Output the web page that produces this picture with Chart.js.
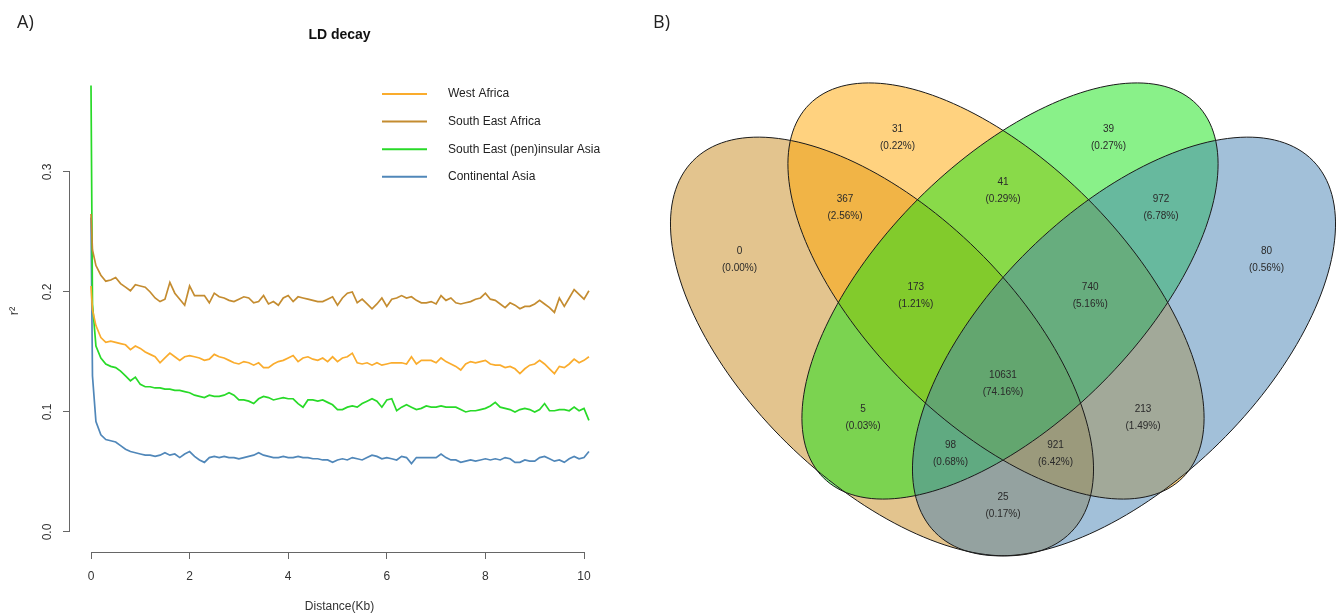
<!DOCTYPE html>
<html>
<head>
<meta charset="utf-8">
<script src="https://cdn.jsdelivr.net/npm/chart.js@4.4.1/dist/chart.umd.min.js"></script>
<style>
  html, body { margin: 0; padding: 0; background: #fff; }
  #page { position: relative; width: 1336px; height: 616px; overflow: hidden; }
  #ld { position: absolute; left: 0; top: 0; }
  #venn { position: absolute; left: 660px; top: 0; }
  .panel { position: absolute; font-family: 'Open Sans', sans-serif; font-size: 18px; line-height: 1; color: #222; }
</style>
</head>
<body>
<div id="page">
  <canvas id="ld" width="660" height="616"></canvas>
  <canvas id="venn" width="676" height="616"></canvas>
  <div class="panel" style="left:17px; top:12px;">A)</div>
  <div class="panel" style="left:653px; top:12px;">B)</div>
</div>
<script>
// ---- Panel A: LD decay ----
const distanceKb = [0, 0.03,
  0.1, 0.2, 0.3, 0.4, 0.5, 0.6, 0.7, 0.8, 0.9, 1.0,
  1.1, 1.2, 1.3, 1.4, 1.5, 1.6, 1.7, 1.8, 1.9, 2.0,
  2.1, 2.2, 2.3, 2.4, 2.5, 2.6, 2.7, 2.8, 2.9, 3.0,
  3.1, 3.2, 3.3, 3.4, 3.5, 3.6, 3.7, 3.8, 3.9, 4.0,
  4.1, 4.2, 4.3, 4.4, 4.5, 4.6, 4.7, 4.8, 4.9, 5.0,
  5.1, 5.2, 5.3, 5.4, 5.5, 5.6, 5.7, 5.8, 5.9, 6.0,
  6.1, 6.2, 6.3, 6.4, 6.5, 6.6, 6.7, 6.8, 6.9, 7.0,
  7.1, 7.2, 7.3, 7.4, 7.5, 7.6, 7.7, 7.8, 7.9, 8.0,
  8.1, 8.2, 8.3, 8.4, 8.5, 8.6, 8.7, 8.8, 8.9, 9.0,
  9.1, 9.2, 9.3, 9.4, 9.5, 9.6, 9.7, 9.8, 9.9, 10.0,
  10.1];

const westAfrica = [0.205, 0.185,
  0.172, 0.162, 0.158, 0.159, 0.158, 0.157, 0.156, 0.152, 0.155, 0.153,
  0.150, 0.148, 0.146, 0.141, 0.145, 0.149, 0.146, 0.143, 0.146, 0.147,
  0.146, 0.145, 0.143, 0.144, 0.148, 0.146, 0.145, 0.143, 0.141, 0.140,
  0.142, 0.141, 0.139, 0.141, 0.137, 0.137, 0.140, 0.142, 0.143, 0.145,
  0.147, 0.142, 0.145, 0.146, 0.144, 0.143, 0.145, 0.142, 0.146, 0.142,
  0.145, 0.146, 0.149, 0.141, 0.140, 0.141, 0.139, 0.141, 0.139, 0.140,
  0.141, 0.141, 0.141, 0.140, 0.146, 0.140, 0.143, 0.143, 0.143, 0.141,
  0.145, 0.142, 0.140, 0.138, 0.135, 0.140, 0.142, 0.141, 0.142, 0.143,
  0.140, 0.139, 0.139, 0.137, 0.138, 0.136, 0.132, 0.136, 0.139, 0.140,
  0.143, 0.140, 0.136, 0.132, 0.138, 0.137, 0.140, 0.144, 0.141, 0.143,
  0.146];

const southEastAfrica = [0.265, 0.235,
  0.222, 0.214, 0.209, 0.210, 0.212, 0.207, 0.204, 0.201, 0.206, 0.205,
  0.204, 0.200, 0.195, 0.192, 0.194, 0.208, 0.199, 0.194, 0.189, 0.205,
  0.197, 0.197, 0.197, 0.191, 0.199, 0.196, 0.195, 0.193, 0.192, 0.194,
  0.196, 0.195, 0.191, 0.192, 0.197, 0.190, 0.192, 0.189, 0.195, 0.197,
  0.192, 0.196, 0.195, 0.194, 0.193, 0.192, 0.192, 0.194, 0.196, 0.189,
  0.195, 0.199, 0.200, 0.191, 0.194, 0.190, 0.186, 0.190, 0.195, 0.188,
  0.194, 0.195, 0.197, 0.195, 0.196, 0.193, 0.191, 0.191, 0.192, 0.190,
  0.197, 0.193, 0.195, 0.191, 0.190, 0.191, 0.192, 0.194, 0.195, 0.199,
  0.194, 0.193, 0.190, 0.187, 0.191, 0.189, 0.186, 0.188, 0.188, 0.190,
  0.193, 0.190, 0.187, 0.183, 0.195, 0.188, 0.195, 0.202, 0.198, 0.194,
  0.201];

const seInsularAsia = [0.372, 0.190,
  0.155, 0.145, 0.140, 0.138, 0.137, 0.134, 0.130, 0.126, 0.129, 0.123,
  0.121, 0.121, 0.120, 0.120, 0.119, 0.119, 0.118, 0.118, 0.117, 0.116,
  0.114, 0.113, 0.112, 0.114, 0.113, 0.113, 0.114, 0.116, 0.114, 0.110,
  0.110, 0.109, 0.107, 0.111, 0.113, 0.112, 0.110, 0.111, 0.112, 0.111,
  0.111, 0.107, 0.104, 0.110, 0.110, 0.109, 0.110, 0.108, 0.106, 0.102,
  0.102, 0.104, 0.105, 0.104, 0.107, 0.109, 0.111, 0.109, 0.104, 0.110,
  0.111, 0.101, 0.104, 0.106, 0.104, 0.102, 0.103, 0.105, 0.104, 0.104,
  0.105, 0.104, 0.104, 0.104, 0.102, 0.100, 0.101, 0.101, 0.102, 0.103,
  0.105, 0.108, 0.104, 0.103, 0.102, 0.100, 0.102, 0.103, 0.102, 0.100,
  0.102, 0.107, 0.101, 0.101, 0.102, 0.102, 0.101, 0.104, 0.101, 0.103,
  0.093];

const continentalAsia = [0.262, 0.130,
  0.092, 0.081, 0.077, 0.076, 0.075, 0.072, 0.069, 0.067, 0.066, 0.065,
  0.064, 0.064, 0.063, 0.064, 0.066, 0.064, 0.065, 0.062, 0.065, 0.067,
  0.063, 0.060, 0.058, 0.062, 0.063, 0.062, 0.063, 0.062, 0.062, 0.061,
  0.062, 0.063, 0.064, 0.066, 0.064, 0.063, 0.062, 0.062, 0.063, 0.062,
  0.062, 0.063, 0.062, 0.062, 0.061, 0.061, 0.060, 0.060, 0.058, 0.060,
  0.061, 0.060, 0.062, 0.061, 0.060, 0.062, 0.064, 0.063, 0.061, 0.062,
  0.061, 0.060, 0.063, 0.062, 0.057, 0.062, 0.062, 0.062, 0.062, 0.062,
  0.065, 0.062, 0.060, 0.060, 0.058, 0.059, 0.060, 0.059, 0.060, 0.061,
  0.060, 0.061, 0.060, 0.062, 0.061, 0.058, 0.058, 0.060, 0.059, 0.059,
  0.062, 0.063, 0.061, 0.059, 0.060, 0.058, 0.061, 0.063, 0.061, 0.062,
  0.067];

const seriesNames = ["West Africa", "South East Africa", "South East (pen)insular Asia", "Continental Asia"];
const xTicks = [0, 2, 4, 6, 8, 10];
const yTicks = [0, 0.1, 0.2, 0.3];

// ---- Panel B: Venn counts (regions in reading order) ----
const vennCounts = [0, 31, 39, 80, 367, 41, 972, 173, 740, 10631, 5, 213, 98, 921, 25];

// colours: Venn sets in draw order SE Africa, West Africa, SE insular Asia, Continental Asia
const setColours = ["200,138,30", "255,165,0", "20,228,20", "70,130,180"];
const lineColours = ["rgb(250,172,45)", "rgb(196,140,48)", "rgb(40,218,40)", "rgb(80,135,185)"];

// venn layout (fixed geometry, 1 unit = 100px)
const vennShape = {
  cx: [-1.21, -0.07, 0.07, 1.21],
  cy: [1.985, 2.54, 2.54, 1.985],
  a: [2.65, 2.64, 2.64, 2.65],
  b: [1.355, 1.30, 1.30, 1.355],
  angle: [-44.5, -45, 45, 44.5]
};
const vennLabelX = [-2.635, -1.055, 1.055, 2.635, -1.58, 0, 1.58, -0.872, 0.872, 0, -1.40, 1.40, -0.525, 0.525, 0];
const vennLabelY = [2.85, 4.075, 4.075, 2.85, 3.37, 3.545, 3.37, 2.495, 2.495, 1.615, 1.27, 1.27, 0.915, 0.915, 0.395];

Chart.defaults.font.family = "'Liberation Sans', Arial, Helvetica, sans-serif";
Chart.defaults.color = "#333";

const toPoints = (vals) => vals.map((v, i) => ({ x: distanceKb[i], y: v }));

// R style axis lines: only span first to last tick
const rAxes = {
  id: "rAxes",
  afterDraw(chart) {
    const { ctx, chartArea, scales } = chart;
    ctx.save();
    ctx.strokeStyle = "#666";
    ctx.lineWidth = 1;
    ctx.beginPath();
    const yb = Math.round(chartArea.bottom) + 0.5;
    ctx.moveTo(scales.x.getPixelForValue(xTicks[0]), yb);
    ctx.lineTo(scales.x.getPixelForValue(xTicks[xTicks.length - 1]), yb);
    const xl = Math.round(chartArea.left) - 0.5;
    ctx.moveTo(xl, scales.y.getPixelForValue(yTicks[0]));
    ctx.lineTo(xl, scales.y.getPixelForValue(yTicks[yTicks.length - 1]));
    ctx.stroke();
    ctx.restore();
  }
};

// legend inside the plot, no box (like R legend bty="n")
const ldLegend = {
  id: "ldLegend",
  afterDraw(chart) {
    const ctx = chart.ctx;
    ctx.save();
    ctx.font = "12px 'Liberation Sans', Arial, sans-serif";
    ctx.textBaseline = "middle";
    chart.data.datasets.forEach((ds, i) => {
      const y = 94 + i * 27.6;
      ctx.strokeStyle = ds.borderColor;
      ctx.lineWidth = 2;
      ctx.beginPath();
      ctx.moveTo(382, y);
      ctx.lineTo(427, y);
      ctx.stroke();
      ctx.fillStyle = "#222";
      ctx.fillText(ds.label, 448, y);
    });
    ctx.restore();
  }
};

const ldSeries = [westAfrica, southEastAfrica, seInsularAsia, continentalAsia];

new Chart(document.getElementById("ld"), {
  type: "line",
  data: {
    datasets: ldSeries.map((vals, i) => ({
      label: seriesNames[i],
      data: toPoints(vals),
      borderColor: lineColours[i],
      borderWidth: 1.7,
      pointRadius: 0,
      tension: 0,
      fill: false
    }))
  },
  options: {
    responsive: false,
    animation: false,
    devicePixelRatio: 1,
    layout: { padding: { left: 0, right: 51, top: 0, bottom: 0 } },
    plugins: {
      legend: { display: false },
      tooltip: { enabled: false },
      title: {
        display: true,
        text: "LD decay",
        fullSize: false,
        color: "#111",
        font: { size: 14, weight: "bold" },
        padding: { top: 27, bottom: 26.2 }
      }
    },
    scales: {
      x: {
        type: "linear",
        min: -0.426,
        max: 10.507,
        afterFit: (s) => { s.height = 64; },
        afterBuildTicks: (s) => { s.ticks = xTicks.map((v) => ({ value: v })); },
        border: { display: false },
        grid: { display: true, drawOnChartArea: false, drawTicks: true, tickLength: 7, color: "#666" },
        ticks: { padding: 10, font: { size: 12 }, color: "#333", maxRotation: 0 },
        title: { display: true, text: "Distance(Kb)", font: { size: 12 }, color: "#333", padding: { top: 0, bottom: 2 } }
      },
      y: {
        type: "linear",
        min: -0.0167,
        max: 0.385,
        afterFit: (s) => { s.width = 70; },
        afterBuildTicks: (s) => { s.ticks = yTicks.map((v) => ({ value: v })); },
        border: { display: false },
        grid: { display: true, drawOnChartArea: false, drawTicks: true, tickLength: 7, color: "#666" },
        ticks: {
          padding: 7,
          minRotation: 90,
          maxRotation: 90,
          crossAlign: "center",
          font: { size: 12 },
          color: "#333",
          callback: (v) => v.toFixed(1)
        },
        title: { display: true, text: "r\u00B2", font: { size: 13 }, color: "#333", padding: { top: 7, bottom: 0 } }
      }
    }
  },
  plugins: [rAxes, ldLegend]
});

// ---- Panel B: four-set Venn ----
const vennTotal = vennCounts.reduce((s, v) => s + v, 0);

const vennDraw = {
  id: "vennDraw",
  afterDraw(chart) {
    const { ctx, scales } = chart;
    const sx = scales.x, sy = scales.y;
    const trace = (k) => {
      const th = vennShape.angle[k] * Math.PI / 180;
      ctx.beginPath();
      for (let deg = 0; deg <= 360; deg += 2) {
        const t = deg * Math.PI / 180;
        const u = vennShape.a[k] * Math.cos(t);
        const v = vennShape.b[k] * Math.sin(t);
        const px = sx.getPixelForValue(vennShape.cx[k] + u * Math.cos(th) - v * Math.sin(th));
        const py = sy.getPixelForValue(vennShape.cy[k] + u * Math.sin(th) + v * Math.cos(th));
        if (deg === 0) ctx.moveTo(px, py); else ctx.lineTo(px, py);
      }
      ctx.closePath();
    };
    ctx.save();
    for (let k = 0; k < 4; k++) {
      trace(k);
      ctx.fillStyle = "rgba(" + setColours[k] + ",0.5)";
      ctx.fill();
    }
    ctx.strokeStyle = "#1a1a1a";
    ctx.lineWidth = 1;
    for (let k = 0; k < 4; k++) {
      trace(k);
      ctx.stroke();
    }
    ctx.fillStyle = "#2a2a2a";
    ctx.font = "10px 'Liberation Sans', Arial, sans-serif";
    ctx.textAlign = "center";
    ctx.textBaseline = "middle";
    vennCounts.forEach((n, i) => {
      const px = sx.getPixelForValue(vennLabelX[i]);
      const py = sy.getPixelForValue(vennLabelY[i]);
      ctx.fillText(String(n), px, py - 8.5);
      ctx.fillText("(" + (n / vennTotal * 100).toFixed(2) + "%)", px, py + 8.5);
    });
    ctx.restore();
  }
};

new Chart(document.getElementById("venn"), {
  type: "scatter",
  data: { datasets: [] },
  options: {
    responsive: false,
    animation: false,
    devicePixelRatio: 1,
    layout: { padding: 0 },
    plugins: { legend: { display: false }, tooltip: { enabled: false } },
    scales: {
      x: { type: "linear", min: -3.43, max: 3.33, display: false },
      y: { type: "linear", min: -0.71, max: 5.45, display: false }
    }
  },
  plugins: [vennDraw]
});
</script>
</body>
</html>
